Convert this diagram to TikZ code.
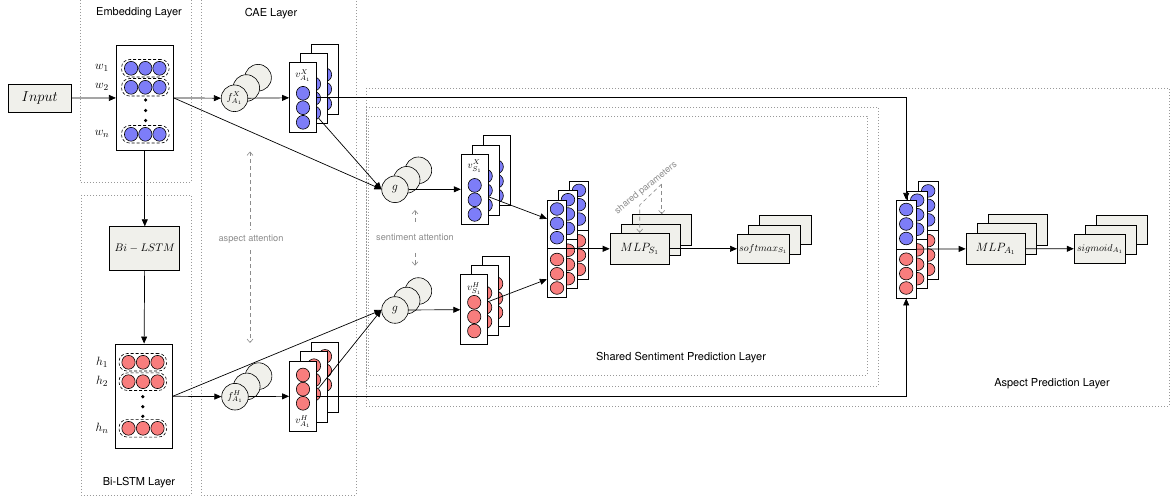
\documentclass[tikz,border=0pt]{standalone}
\usepackage{amsmath,amssymb}
\usepackage{fontspec}
\usepackage{tikz}
\usetikzlibrary{positioning}
\usetikzlibrary{shapes.geometric}
\usetikzlibrary{arrows.meta}
\usetikzlibrary{calc}
\newfontfamily\lblfont{TeX Gyre Heros}

\definecolor{boxgray}{RGB}{240,240,235}
\definecolor{unitblue}{RGB}{125,125,248}
\definecolor{unitred}{RGB}{248,125,125}
\definecolor{notegray}{RGB}{140,140,140}

\tikzset{
  layerframe/.style={draw=black!40, line width=0.6pt, dash pattern=on 0.8pt off 2.2pt},
  lbl/.style={font=\lblfont\fontsize{11}{13}\selectfont, inner sep=1pt},
  note/.style={font=\lblfont\fontsize{9.2}{11}\selectfont, text=notegray, inner sep=1.5pt},
  greybox/.style={draw, line width=0.8pt, fill=boxgray, inner sep=0pt},
  plainbox/.style={draw, line width=0.8pt, fill=white, inner sep=0pt},
  vecbox/.style={plainbox, minimum width=27pt, minimum height=70pt},
  catbox/.style={plainbox, minimum width=19.4pt, minimum height=97.7pt},
  mlpbox/.style={greybox, minimum width=59.3pt, minimum height=31pt, font=\fontsize{12.5}{14}\selectfont},
  outbox/.style={greybox, minimum width=51.6pt, minimum height=29pt, font=\fontsize{10}{12}\selectfont},
  bunit/.style={draw, ellipse, line width=0.6pt, fill=unitblue, minimum width=13.3pt, minimum height=13.8pt, inner sep=0pt},
  runit/.style={bunit, fill=unitred},
  catunit/.style={minimum width=13.5pt, minimum height=12.6pt},
  wordrow/.style={draw, line width=0.6pt, dash pattern=on 3pt off 2pt, rounded corners=8pt, minimum width=47.5pt, minimum height=17.5pt, inner sep=0pt},
  fcirc/.style={draw, circle, line width=0.6pt, fill=boxgray, minimum size=26.6pt, inner sep=0pt, font=\fontsize{10}{12}\selectfont},
  dot/.style={circle, fill, minimum size=3.6pt, inner sep=0pt},
  wlbl/.style={font=\fontsize{12.5}{14}\selectfont, inner sep=0pt},
  vlbl/.style={font=\fontsize{10}{12}\selectfont, inner sep=0pt},
  conn/.style={line width=0.7pt, -{Triangle[length=7pt,width=6pt]}},
  attn/.style={draw=notegray, line width=0.6pt, dash pattern=on 4pt off 3pt, {Straight Barb[length=3.5pt,width=6pt]}-{Straight Barb[length=3.5pt,width=6pt]}},
  share/.style={draw=notegray, line width=0.6pt, dash pattern=on 4pt off 3pt, -{Straight Barb[length=3.5pt,width=6pt]}},
}

\begin{document}
\begin{tikzpicture}[x=1pt,y=-1pt]
\useasboundingbox (0,0) rectangle (1175,502);

% dotted layer frames
\draw[layerframe] (80,0) |- (191,182) -- (191,0);
\draw[layerframe] (81,195) rectangle (191,495);
\draw[layerframe] (201,0) |- (356,495) -- (356,0);
\draw[layerframe] (366,88) rectangle (1169,406);
\draw[layerframe] (366,107) rectangle (878,386);
\draw[layerframe] (368,116) rectangle (867,375);

\node[lbl] (embtitle) at (139,13) {Embedding Layer};
\node[lbl] (caetitle) at (271,14) {CAE Layer};
\node[lbl] (lstmtitle) at (139,483) {Bi-LSTM Layer};
\node[lbl] (senttitle) at (681,358) {Shared Sentiment Prediction Layer};
\node[lbl] (asptitle) at (1052,384) {Aspect Prediction Layer};

% input, embedding, bi-lstm
\node[greybox, minimum width=62.7pt, minimum height=28pt, font=\fontsize{13.5}{15}\selectfont] (inp) at (39.7,98) {$Input$};

\node[plainbox, minimum width=57pt, minimum height=104.3pt] (emb) at (144.8,97.9) {};
\foreach \y/\w [count=\i] in {68.3/w_1,87.3/w_2,134.3/w_n}{
  \node[wordrow] (wrow\i) at (145.3,\y) {};
  \foreach \x [count=\j] in {131.1,145.3,159.5}
    \node[bunit] (w\i-\j) at (\x,\y) {};
  \node[wlbl] (wlbl\i) at (102,\y) {$\w$};
}
\foreach \y [count=\i] in {100,110.5,120.5}
  \node[dot] (wdot\i) at (145.6,\y) {};

\node[greybox, minimum width=70pt, minimum height=44pt, font=\fontsize{10.5}{12}\selectfont] (bilstm) at (144.8,248.7) {$Bi-LSTM$};

\node[plainbox, minimum width=57.3pt, minimum height=104.7pt] (hbox) at (143.7,396.3) {};
\foreach \y/\h [count=\i] in {362.3/h_1,381.7/h_2,428.3/h_n}{
  \node[wordrow] (hrow\i) at (142.8,\y) {};
  \foreach \x [count=\j] in {128.5,143,157.5}
    \node[runit] (h\i-\j) at (\x,\y) {};
  \node[wlbl] (hlbl\i) at (102,\y) {$\h$};
}
\foreach \y [count=\i] in {396.7,406.7,416.3}
  \node[dot] (hdot\i) at (142.8,\y) {};

% CAE layer
\foreach \k in {2,1}
  \node[fcirc] (fX\k) at ({234.5+\k*11.8},{98.3-\k*10.3}) {};
\node[fcirc] (fX0) at (234.5,98.3) {$f^X_{A_1}$};
\foreach \k in {2,1}
  \node[fcirc] (fH\k) at ({235+\k*11.8},{396.7-\k*10.3}) {};
\node[fcirc] (fH0) at (235,396.7) {$f^H_{A_1}$};

\foreach \k in {2,1,0}{
  \node[vecbox] (vAX\k) at ({303+\k*11},{97.7-\k*9.3}) {};
  \foreach \cy [count=\j] in {93.3,107.7,122.3}
    \node[bunit] (vAX\k-\j) at ({303+\k*11},{\cy-\k*9.3}) {};
}
\node[vlbl] (vAXlbl) at (303,75.5) {$v^X_{A_1}$};

\foreach \k in {2,1,0}{
  \node[vecbox] (vAH\k) at ({303+\k*11},{396.2-\k*9.3}) {};
  \foreach \cy [count=\j] in {375,389.2,403.3}
    \node[runit] (vAH\k-\j) at ({303+\k*11},{\cy-\k*9.3}) {};
}
\node[vlbl] (vAHlbl) at (303,421.5) {$v^H_{A_1}$};

% sentiment attention outputs
\foreach \k in {2,1}
  \node[fcirc] (gX\k) at ({395+\k*11.7},{189.3-\k*9.5}) {};
\node[fcirc, font=\fontsize{12}{14}\selectfont] (gX0) at (395,189.3) {$g$};
\foreach \k in {2,1}
  \node[fcirc] (gH\k) at ({395+\k*11.7},{310-\k*9.5}) {};
\node[fcirc, font=\fontsize{12}{14}\selectfont] (gH0) at (395,310) {$g$};

\foreach \k in {2,1,0}{
  \node[vecbox] (vSX\k) at ({474.7+\k*11},{189.3-\k*9.3}) {};
  \foreach \cy [count=\j] in {185.4,199.8,214.4}
    \node[bunit] (vSX\k-\j) at ({474.7+\k*11},{\cy-\k*9.3}) {};
}
\node[vlbl] (vSXlbl) at (474.7,166) {$v^X_{S_1}$};

\foreach \k in {2,1,0}{
  \node[vecbox] (vSH\k) at ({474.2+\k*11},{309.7-\k*9.3}) {};
  \foreach \cy [count=\j] in {302.3,316.7,331}
    \node[runit] (vSH\k-\j) at ({474.2+\k*11},{\cy-\k*9.3}) {};
}
\node[vlbl] (vSHlbl) at (474.2,288.5) {$v^H_{S_1}$};

% concatenations
\foreach \k in {2,1,0}{
  \node[catbox] (catS\k) at ({557+\k*11},{248.8-\k*9.3}) {};
  \draw[line width=0.8pt] (catS\k.west) -- (catS\k.east);
  \foreach \cy [count=\j] in {209,223.3,237.7}
    \node[bunit, catunit] (catS\k-b\j) at ({557+\k*11},{\cy-\k*9.3}) {};
  \foreach \cy [count=\j] in {259.5,273.8,288}
    \node[runit, catunit] (catS\k-r\j) at ({557+\k*11},{\cy-\k*9.3}) {};
}
\foreach \k in {2,1,0}{
  \node[catbox] (catA\k) at ({906.2+\k*11},{249.2-\k*9.3}) {};
  \draw[line width=0.8pt] (catA\k.west) -- (catA\k.east);
  \foreach \cy [count=\j] in {209.5,224,238.5}
    \node[bunit, catunit] (catA\k-b\j) at ({906.2+\k*11},{\cy-\k*9.3}) {};
  \foreach \cy [count=\j] in {259.2,273.6,288}
    \node[runit, catunit] (catA\k-r\j) at ({906.2+\k*11},{\cy-\k*9.3}) {};
}

% prediction heads
\foreach \k in {2,1}
  \node[mlpbox] (mlpS\k) at ({639.7+\k*11},{248.8-\k*9.3}) {};
\node[mlpbox] (mlpS0) at (639.7,248.8) {$MLP_{S_1}$};
\foreach \k in {2,1}
  \node[outbox] (softS\k) at ({763.2+\k*11},{248.8-\k*9.3}) {};
\node[outbox] (softS0) at (763.2,248.8) {$softmax_{S_1}$};
\foreach \k in {2,1}
  \node[mlpbox] (mlpA\k) at ({995.7+\k*11},{248.7-\k*9.3}) {};
\node[mlpbox] (mlpA0) at (995.7,248.7) {$MLP_{A_1}$};
\foreach \k in {2,1}
  \node[outbox] (sigA\k) at ({1100+\k*11},{248.8-\k*9.3}) {};
\node[outbox] (sigA0) at (1100,248.8) {$sigmoid_{A_1}$};

% connections
\draw[conn] (inp) -- (emb);
\draw[conn] (emb) -- (bilstm);
\draw[conn] (bilstm) -- (hbox);
\draw[conn] (emb.east) -- (fX0);
\draw[conn] (fX0) -- (vAX0);
\draw[conn] (hbox.east) -- (fH0);
\draw[conn] (fH0) -- (vAH0);
\draw[conn] (emb.east) -- (gX0.west);
\draw[conn] (vAX1-3) -- (gX0.west);
\draw[conn] (hbox.east) -- (gH0.west);
\draw[conn] (vAH1-3) -- (gH0.west);
\draw[conn] (gX0) -- (vSX0);
\draw[conn] (gH0) -- (vSH0);
\draw[conn] ($(vSX0.east)+(0,7.5)$) -- ($(catS0.west)+(0,-30)$);
\draw[conn] ($(vSH0.east)+(0,-8)$) -- ($(catS0.west)+(0,30.5)$);
\draw[conn] (catS0) -- (mlpS0);
\draw[conn] (mlpS0) -- (softS0);
\draw[conn] (vAX0.east) -| (catA0.north);
\draw[conn] (vAH0.east) -| (catA0.south);
\draw[conn] (catA0) -- (mlpA0);
\draw[conn] (mlpA0) -- (sigA0);

% attention and shared parameters
\coordinate (aatop) at (250,151.5);
\coordinate (aabot) at (250,343);
\draw[attn] (aatop) -- (aabot);
\node[note, fill=white, inner ysep=4.5pt] (aalbl) at (251,239) {aspect attention};

\coordinate (satop) at (415,210);
\coordinate (sabot) at (415,265.7);
\draw[attn] (satop) -- (sabot);
\node[note, fill=white, inner ysep=10pt] (salbl) at (415,237.7) {sentiment attention};

\coordinate (spar) at (661.7,184);
\coordinate (sbend) at (639.7,205);
\draw[share] (spar) -- (sbend) -- (mlpS0.north);
\draw[share] (spar) -- (mlpS2.north);
\node[note, rotate=39] (sptext) at (646,188) {shared parameters};
\end{tikzpicture}
\end{document}
